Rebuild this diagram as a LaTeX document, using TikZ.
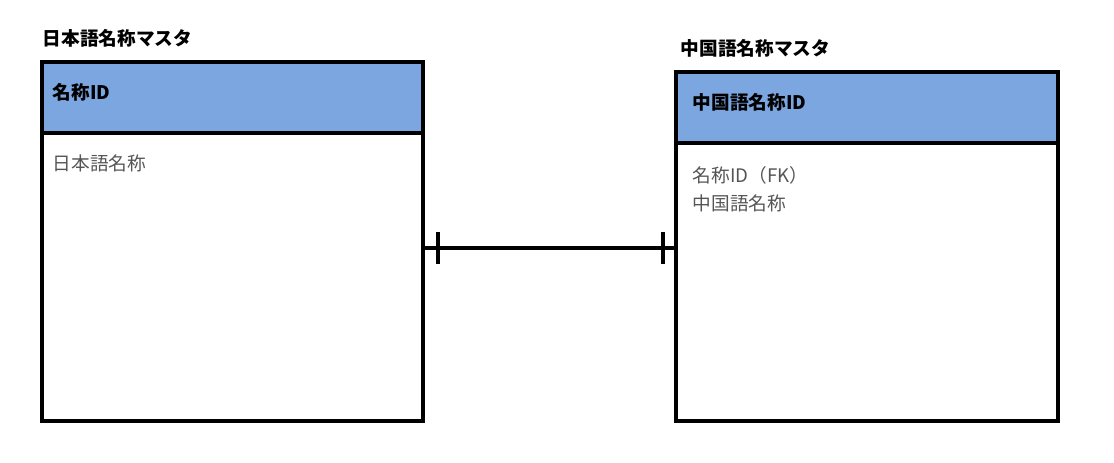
\documentclass[tikz,border=0pt]{standalone}
\usepackage{fontspec}
\setmainfont{Noto Sans CJK JP}
\definecolor{hdr}{HTML}{7CA6E0}
\definecolor{txt}{HTML}{555555}
\begin{document}
\begin{tikzpicture}[x=0.75pt,y=-0.75pt,
  box/.style={draw=black,line width=3pt},
  title/.style={anchor=west,font=\bfseries\fontsize{14}{16}\selectfont},
  htext/.style={anchor=west,font=\bfseries\fontsize{14}{16}\selectfont},
  btext/.style={anchor=west,text=txt,font=\fontsize{14}{15}\selectfont},
  conn/.style={line width=3pt}]
\useasboundingbox (0,0) rectangle (1114,462);
% left
\fill[hdr] (42,62) rectangle (423,133);
\draw[box] (42,62) rectangle (423,421);
\draw[box] (42,133) -- (423,133);
\node[title] (t1) at (38,38) {日本語名称マスタ};
\node[htext] (h1) at (48,92) {名称ID};
\node[btext] (b1) at (48,163) {日本語名称};
% right
\fill[hdr] (676,72) rectangle (1058,143);
\draw[box] (676,72) rectangle (1058,421);
\draw[box] (676,143) -- (1058,143);
\node[title] (t2) at (676,48) {中国語名称マスタ};
\node[htext] (h2) at (688,102) {中国語名称ID};
\node[btext] (b2) at (688,175) {名称ID（FK）};
\node[btext] (b3) at (688,203) {中国語名称};
% connector
\coordinate (L) at (423,248);
\coordinate (R) at (676,248);
\draw[conn] (L) -- (R);
\draw[conn] (438,232) -- (438,264);
\draw[conn] (663,232) -- (663,264);
\end{tikzpicture}
\end{document}
